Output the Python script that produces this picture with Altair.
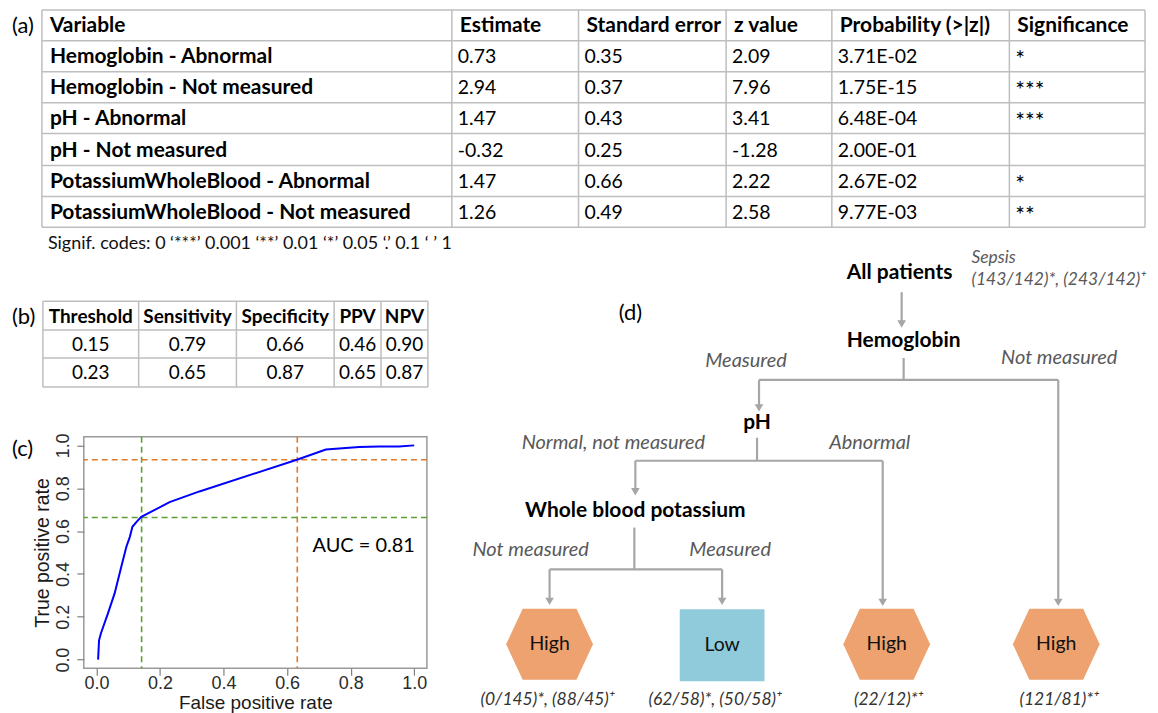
import altair as alt
import pandas as pd

# ---------------- (a) logistic regression table ----------------
a_headers = ["Variable", "Estimate", "Standard error", "z value", "Probability (>|z|)", "Significance"]
variables = ["Hemoglobin - Abnormal", "Hemoglobin - Not measured", "pH - Abnormal",
             "pH - Not measured", "PotassiumWholeBlood - Abnormal", "PotassiumWholeBlood - Not measured"]
estimates = [0.73, 2.94, 1.47, -0.32, 1.47, 1.26]
std_errors = [0.35, 0.37, 0.43, 0.25, 0.66, 0.49]
z_values = [2.09, 7.96, 3.41, -1.28, 2.22, 2.58]
probabilities = [3.71e-02, 1.75e-15, 6.48e-04, 2.00e-01, 2.67e-02, 9.77e-03]
significance = ["*", "***", "***", "", "*", "**"]
signif_codes = "Signif. codes:  0 \u2018***\u2019 0.001 \u2018**\u2019 0.01 \u2018*\u2019 0.05 \u2018.\u2019 0.1 \u2018 \u2019 1"

# ---------------- (b) threshold table ----------------
b_headers = ["Threshold", "Sensitivity", "Specificity", "PPV", "NPV"]
thresholds = [0.15, 0.23]
sensitivity = [0.79, 0.65]
specificity = [0.66, 0.87]
ppv = [0.46, 0.65]
npv = [0.90, 0.87]

# ---------------- (c) ROC curve ----------------
roc_fpr = [0.005, 0.008, 0.014, 0.036, 0.057, 0.078, 0.094, 0.105, 0.113, 0.126, 0.141,
           0.23, 0.324, 0.633, 0.722, 0.827, 0.889, 0.952, 1.0]
roc_tpr = [0.0, 0.09, 0.123, 0.216, 0.309, 0.433, 0.527, 0.573, 0.62, 0.643, 0.666,
           0.735, 0.785, 0.934, 0.981, 0.992, 0.995, 0.995, 1.0]
cut_fpr = [0.142, 0.632]
cut_tpr = [0.663, 0.933]
auc_value = 0.81

# ---------------- (d) decision tree ----------------
tree_nodes = ["All patients", "Hemoglobin", "pH", "Whole blood potassium"]
branch_labels = ["Measured", "Not measured", "Normal, not measured", "Abnormal", "Not measured", "Measured"]
leaf_classes = ["High", "Low", "High", "High"]
leaf_counts = ["(0/145)*, (88/45)\u207a", "(62/58)*, (50/58)\u207a", "(22/12)*\u207a", "(121/81)*\u207a"]
root_note = ["Sepsis", "(143/142)*, (243/142)\u207a"]

# ---------------- layout (page pixel coordinates) ----------------
ORIGIN_X = 84          # left edge of the ROC plot area; all panels share it
X1 = 1149
SPLIT_Y = 233
SPLIT_X = 455
Y_END = 713
B_END = 431
ROC_W, ROC_H = 344, 232

a_col_edges = [42, 453, 580, 728, 834, 1012, 1148]
a_row_edges = [8, 39, 70, 101, 132, 164, 195, 226]
b_col_edges = [43, 139, 237, 335, 382, 429]
b_row_edges = [300, 329, 357, 386]

node_xy = [(898, 272), (902, 340), (755, 422), (633, 510)]
branch_xy = [(744, 360), (1058, 357), (611, 442), (868, 442), (528, 550), (728, 550)]
leaf_xy = [(547, 644), (720, 645), (885, 644), (1055, 644)]
caption_xy = [(545, 700), (713, 700), (887, 700), (1058, 700)]
segments = [
    (900, 291, 900, 323), (902, 357, 902, 379), (757, 379, 1057, 379),
    (757, 379, 757, 406), (1057, 379, 1057, 601), (755, 437, 755, 460),
    (633, 460, 881, 460), (633, 460, 633, 490), (881, 460, 881, 601),
    (632, 527, 632, 569), (547, 569, 720, 569), (547, 569, 547, 600),
    (720, 569, 720, 600),
]
arrow_tips = [(900, 327), (757, 411), (1057, 606), (633, 495), (881, 606), (547, 605), (720, 605)]

LINE_GREY = "#A6A6A6"
TABLE_GREY = "#BEBEBE"
HEX_PATH = "M -1 0 L -0.62 -0.816 L 0.62 -0.816 L 1 0 L 0.62 0.816 L -0.62 0.816 Z"


def enc(dom_x, dom_y, two=False):
    e = dict(
        x=alt.X("x:Q", scale=alt.Scale(domain=list(dom_x), nice=False, zero=False), axis=None),
        y=alt.Y("y:Q", scale=alt.Scale(domain=list(dom_y), nice=False, zero=False, reverse=True), axis=None),
    )
    if two:
        e["x2"] = alt.X2("x2:Q")
        e["y2"] = alt.Y2("y2:Q")
    return e


def texts(rows, dom, **kw):
    df = pd.DataFrame(rows, columns=["x", "y", "t"])
    return alt.Chart(df).mark_text(**kw).encode(**enc(*dom), text="t:N")


def lines(rows, dom, **kw):
    df = pd.DataFrame(rows, columns=["x", "y", "x2", "y2"])
    return alt.Chart(df).mark_rule(**kw).encode(**enc(*dom, two=True))


# ======== panel A ========
domA = ((ORIGIN_X, X1), (8, SPLIT_Y))
bold_a, reg_a, sig_a = [], [], []
for c, h in enumerate(a_headers):
    bold_a.append((a_col_edges[c] + 8, (a_row_edges[0] + a_row_edges[1]) / 2 + 1, h))
for r in range(len(variables)):
    yc = (a_row_edges[r + 1] + a_row_edges[r + 2]) / 2 + 1
    bold_a.append((a_col_edges[0] + 8, yc, variables[r]))
    vals = [f"{estimates[r]:.2f}", f"{std_errors[r]:.2f}", f"{z_values[r]:.2f}",
            f"{probabilities[r]:.2E}"]
    for c, v in enumerate(vals):
        reg_a.append((a_col_edges[c + 1] + 6, yc, v))
    sig_a.append((a_col_edges[5] + 6, yc + 3, significance[r]))
grid_a = [(a_col_edges[0], y, a_col_edges[-1], y) for y in a_row_edges] + \
         [(x, a_row_edges[0], x, a_row_edges[-1]) for x in a_col_edges]

panel_a = alt.layer(
    lines([(8.5, 10, 8.5, 11)], domA, strokeOpacity=0, strokeWidth=1),
    lines(grid_a, domA, color=TABLE_GREY, strokeWidth=1.5),
    texts(bold_a, domA, align="left", font="Lato", fontSize=21, fontWeight="bold", color="#000000"),
    texts(reg_a, domA, align="left", font="Lato", fontSize=19.5, color="#000000"),
    texts(sig_a, domA, align="left", font="Lato", fontSize=23, color="#000000"),
    texts([(12, 24, "(a)")], domA, align="left", font="Lato", fontSize=22, color="#000000"),
).properties(width=X1 - ORIGIN_X, height=SPLIT_Y - 8)

# ======== panel B ========
domB = ((ORIGIN_X, SPLIT_X), (SPLIT_Y, B_END))
bold_b, reg_b = [], []
for c, h in enumerate(b_headers):
    bold_b.append(((b_col_edges[c] + b_col_edges[c + 1]) / 2, (b_row_edges[0] + b_row_edges[1]) / 2 + 1, h))
for r in range(len(thresholds)):
    yc = (b_row_edges[r + 1] + b_row_edges[r + 2]) / 2 + 1
    vals = [thresholds[r], sensitivity[r], specificity[r], ppv[r], npv[r]]
    for c, v in enumerate(vals):
        reg_b.append(((b_col_edges[c] + b_col_edges[c + 1]) / 2, yc, f"{v:.2f}"))
grid_b = [(b_col_edges[0], y, b_col_edges[-1], y) for y in b_row_edges] + \
         [(x, b_row_edges[0], x, b_row_edges[-1]) for x in b_col_edges]

panel_b = alt.layer(
    lines(grid_b, domB, color=TABLE_GREY, strokeWidth=1.5),
    texts(bold_b, domB, font="Lato", fontSize=19, fontWeight="bold", color="#000000"),
    texts(reg_b, domB, font="Lato", fontSize=19, color="#000000"),
    texts([(48, 243, signif_codes)], domB, align="left", font="Lato", fontSize=18, color="#111111"),
    texts([(12, 316, "(b)")], domB, align="left", font="Lato", fontSize=22, color="#000000"),
).properties(width=SPLIT_X - ORIGIN_X, height=B_END - SPLIT_Y)

# ======== panel C (ROC) ========
ticks = [0.0, 0.2, 0.4, 0.6, 0.8, 1.0]
roc_df = pd.DataFrame({"fpr": roc_fpr, "tpr": roc_tpr})
cut_df = pd.DataFrame({"fpr": cut_fpr, "tpr": cut_tpr, "col": ["#5E9F33", "#E07A2C"]})
auc_df = pd.DataFrame({"fpr": [0.68], "tpr": [0.53], "t": [f"AUC = {auc_value:.2f}"]})

xs = alt.Scale(domain=[-0.04, 1.04], nice=False, zero=False)
ys = alt.Scale(domain=[-0.04, 1.04], nice=False, zero=False)
x_axis = alt.Axis(values=ticks, format=".1f", title="False positive rate", grid=False, domain=False,
                  tickSize=7, tickColor="#7F7F7F", tickWidth=1.2, labelFont="Liberation Sans",
                  labelFontSize=18, labelColor="#2B2B2B", labelPadding=-1, labelFlush=False,
                  labelOverlap=False, titleFont="Liberation Sans", titleFontSize=19,
                  titleFontWeight="normal", titleColor="#1A1A1A", titlePadding=1)
y_axis = alt.Axis(values=ticks, format=".1f", title="True positive rate", grid=False, domain=False,
                  tickSize=7, tickColor="#7F7F7F", tickWidth=1.2, labelFont="Liberation Sans",
                  labelFontSize=18, labelColor="#2B2B2B", labelPadding=4, labelFlush=False,
                  labelOverlap=False, labelAngle=270, labelAlign="center", labelBaseline="bottom",
                  titleFont="Liberation Sans", titleFontSize=19.5, titleFontWeight="normal",
                  titleColor="#1A1A1A", titlePadding=2)
X = alt.X("fpr:Q", scale=xs, axis=x_axis)
Y = alt.Y("tpr:Q", scale=ys, axis=y_axis)

roc_line = alt.Chart(roc_df).mark_line(color="#0000FF", strokeWidth=2).encode(x=X, y=Y)
vrules = alt.Chart(cut_df).mark_rule(strokeDash=[6, 4], strokeWidth=1.6).encode(
    x=X, color=alt.Color("col:N", scale=None))
hrules = alt.Chart(cut_df).mark_rule(strokeDash=[6, 4], strokeWidth=1.6).encode(
    y=Y, color=alt.Color("col:N", scale=None))
auc_text = alt.Chart(auc_df).mark_text(align="left", font="Lato", fontSize=20, color="#000000").encode(
    x=X, y=Y, text="t:N")
c_label = alt.Chart(pd.DataFrame({"t": ["(c)"]})).mark_text(
    align="left", font="Lato", fontSize=22, color="#000000").encode(
    x=alt.value(12 - ORIGIN_X), y=alt.value(12), text="t:N")

panel_c = alt.layer(vrules, hrules, roc_line, auc_text, c_label).properties(
    width=ROC_W, height=ROC_H,
    view=alt.ViewBackground(stroke="#9A9A9A", strokeWidth=1.5),
)

# ======== panel D (tree) ========
domD = ((SPLIT_X, X1), (SPLIT_Y, Y_END))
tips_df = pd.DataFrame([(x, y - 4) for x, y in arrow_tips], columns=["x", "y"])
hex_df = pd.DataFrame([(leaf_xy[i][0], leaf_xy[i][1]) for i, c in enumerate(leaf_classes) if c == "High"],
                      columns=["x", "y"])
low_df = pd.DataFrame([(leaf_xy[i][0] - 42.5, leaf_xy[i][1] - 36, leaf_xy[i][0] + 42.5, leaf_xy[i][1] + 36)
                       for i, c in enumerate(leaf_classes) if c == "Low"], columns=["x", "y", "x2", "y2"])

panel_d = alt.layer(
    lines(segments, domD, color=LINE_GREY, strokeWidth=2.2),
    alt.Chart(tips_df).mark_point(shape="triangle-down", filled=True, size=75, opacity=1,
                                  color=LINE_GREY).encode(**enc(*domD)),
    alt.Chart(hex_df).mark_point(shape=HEX_PATH, filled=True, size=87 * 87, opacity=1,
                                 color="#EDA26F", strokeWidth=0).encode(**enc(*domD)),
    alt.Chart(low_df).mark_rect(color="#8FCBDB").encode(**enc(*domD, two=True)),
    texts([(x, y, t) for (x, y), t in zip(leaf_xy, leaf_classes)], domD,
          font="Lato", fontSize=19.5, color="#111111"),
    texts([(x, y, t) for (x, y), t in zip(node_xy, tree_nodes)], domD,
          font="Lato", fontSize=21, fontWeight="bold", color="#000000"),
    texts([(x, y, t) for (x, y), t in zip(branch_xy, branch_labels)], domD,
          font="Lato", fontSize=20, fontStyle="italic", color="#595959"),
    texts([(970, 257, root_note[0]), (970, 279, root_note[1])], domD, align="left",
          font="Lato", fontSize=17.5, fontStyle="italic", color="#595959"),
    texts([(x, y, t) for (x, y), t in zip(caption_xy, leaf_counts)], domD,
          font="Lato", fontSize=17.5, fontStyle="italic", color="#333333"),
    texts([(628, 312, "(d)")], domD, font="Lato", fontSize=22, color="#000000"),
).properties(width=X1 - SPLIT_X, height=Y_END - SPLIT_Y)

left_col = alt.vconcat(panel_b, panel_c, spacing=0)
bottom = alt.hconcat(left_col, panel_d, spacing=0)
chart = alt.vconcat(panel_a, bottom, spacing=0).properties(
    padding=0, background="white"
).configure_view(strokeWidth=0).configure_concat(spacing=0)

chart.save("out.html", embed_options={"renderer": "svg", "actions": False})
